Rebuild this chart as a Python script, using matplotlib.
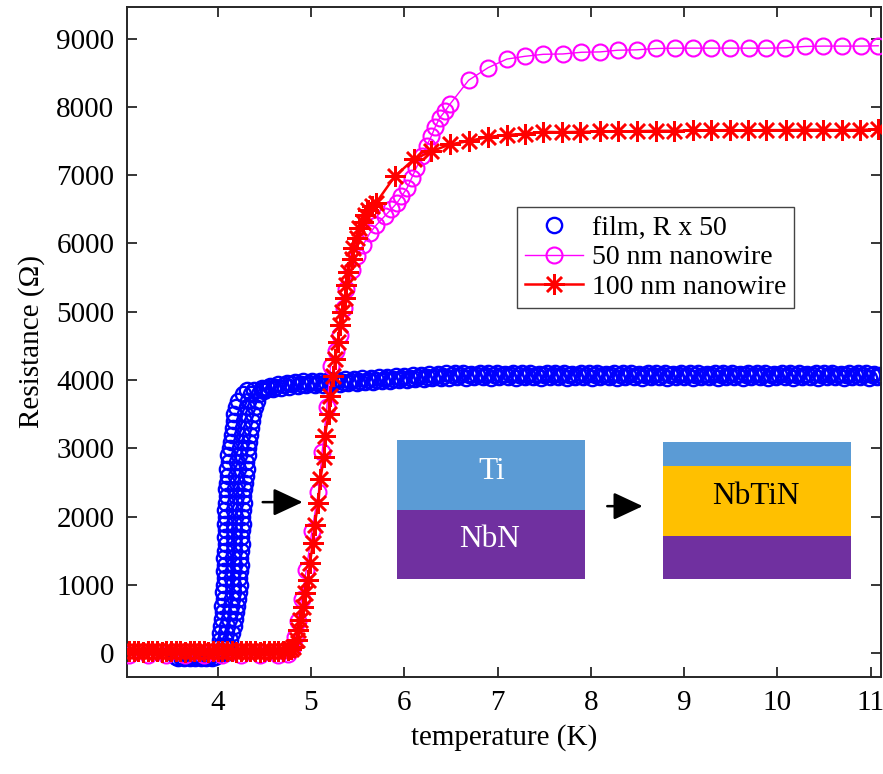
import matplotlib

matplotlib.use("Agg")
import matplotlib.pyplot as plt
from matplotlib.patches import Rectangle

plt.rcParams["font.family"] = ["Liberation Serif", "DejaVu Serif"]

# ---- film (R x 50), blue circles ----
# flat part below Tc
film_flat_t = [3.55, 3.58, 3.61, 3.64, 3.67, 3.70, 3.73, 3.76, 3.79, 3.82, 3.85, 3.88,
               3.91, 3.94, 3.97]
film_flat_r = [-60, -65, -55, -70, -60, -65, -55, -70, -60, -65, -55, -70, -60, -65, -50]

# noisy transition: resistance levels with left / middle / right readings
film_tr_r = [0, 100, 200, 300, 400, 500, 600, 700, 800, 900, 1000, 1100, 1200, 1300,
             1400, 1500, 1600, 1700, 1800, 1900, 2000, 2100, 2200, 2300, 2400, 2500,
             2600, 2700, 2800, 2900, 3000, 3100, 3200, 3300, 3400, 3500, 3600, 3700,
             3800, 3850]
film_tr_left = [4.01, 4.02, 4.02, 4.03, 4.04, 4.05, 4.06, 4.05, 4.07, 4.06, 4.07, 4.08,
                4.07, 4.08, 4.07, 4.08, 4.09, 4.08, 4.09, 4.08, 4.09, 4.08, 4.09, 4.10,
                4.09, 4.10, 4.11, 4.10, 4.12, 4.11, 4.13, 4.14, 4.15, 4.16, 4.17, 4.18,
                4.20, 4.22, 4.27, 4.31]
film_tr_mid = [4.05, 4.07, 4.08, 4.09, 4.10, 4.12, 4.13, 4.14, 4.15, 4.16, 4.16, 4.15,
               4.16, 4.17, 4.16, 4.17, 4.18, 4.17, 4.18, 4.17, 4.19, 4.18, 4.19, 4.20,
               4.19, 4.21, 4.20, 4.22, 4.21, 4.23, 4.24, 4.25, 4.26, 4.27, 4.28, 4.29,
               4.31, 4.33, 4.36, 4.39]
film_tr_right = [4.09, 4.11, 4.13, 4.15, 4.17, 4.19, 4.20, 4.21, 4.22, 4.23, 4.24, 4.23,
                 4.24, 4.25, 4.24, 4.25, 4.26, 4.25, 4.26, 4.27, 4.26, 4.27, 4.28, 4.27,
                 4.28, 4.29, 4.30, 4.31, 4.30, 4.32, 4.33, 4.34, 4.35, 4.36, 4.37, 4.38,
                 4.40, 4.42, 4.44, 4.47]

# normal-state plateau, three interleaved rows of readings (upper / lower / middle)
film_up_t = [4.47, 4.56, 4.65, 4.74, 4.83, 4.92, 5.01, 5.10, 5.19, 5.28, 5.37, 5.46, 5.55,
             5.64, 5.73, 5.82, 5.91, 6.00, 6.09, 6.18, 6.27, 6.36, 6.45, 6.54, 6.63, 6.72,
             6.81, 6.90, 6.99, 7.08, 7.17, 7.26, 7.35, 7.44, 7.53, 7.62, 7.71, 7.80, 7.89,
             7.98, 8.07, 8.16, 8.25, 8.34, 8.43, 8.52, 8.61, 8.70, 8.79, 8.88, 8.97, 9.06,
             9.15, 9.24, 9.33, 9.42, 9.51, 9.60, 9.69, 9.78, 9.87, 9.96, 10.05, 10.14,
             10.23, 10.32, 10.41, 10.50, 10.59, 10.68, 10.77, 10.86, 10.95, 11.04]
film_up_r = [3880, 3920, 3942, 3958, 3970, 3980, 3987, 3992, 3998, 4005, 4012, 4018, 4025,
             4032, 4040, 4047, 4054, 4060, 4070, 4078, 4085, 4092, 4097, 4100, 4105, 4095,
             4100, 4105, 4100, 4095, 4100, 4105, 4100, 4095, 4100, 4105, 4100, 4095, 4100,
             4105, 4100, 4095, 4100, 4105, 4100, 4095, 4100, 4105, 4100, 4095, 4100, 4105,
             4100, 4095, 4100, 4105, 4100, 4095, 4100, 4105, 4100, 4095, 4100, 4105,
             4100, 4095, 4100, 4105, 4100, 4095, 4100, 4105, 4100, 4095]
film_lo_t = [4.50, 4.59, 4.68, 4.77, 4.86, 4.95, 5.04, 5.13, 5.22, 5.31, 5.40, 5.49, 5.58,
             5.67, 5.76, 5.85, 5.94, 6.03, 6.12, 6.21, 6.30, 6.39, 6.48, 6.57, 6.66, 6.75,
             6.84, 6.93, 7.02, 7.11, 7.20, 7.29, 7.38, 7.47, 7.56, 7.65, 7.74, 7.83, 7.92,
             8.01, 8.10, 8.19, 8.28, 8.37, 8.46, 8.55, 8.64, 8.73, 8.82, 8.91, 9.00, 9.09,
             9.18, 9.27, 9.36, 9.45, 9.54, 9.63, 9.72, 9.81, 9.90, 9.99, 10.08, 10.17,
             10.26, 10.35, 10.44, 10.53, 10.62, 10.71, 10.80, 10.89, 10.98, 11.07]
film_lo_r = [3835, 3867, 3888, 3902, 3913, 3922, 3929, 3934, 3940, 3947, 3954, 3960, 3967,
             3975, 3982, 3989, 3996, 4003, 4013, 4020, 4027, 4034, 4038, 4040, 4035, 4045,
             4040, 4035, 4045, 4040, 4035, 4045, 4040, 4035, 4045, 4040, 4035, 4045, 4040,
             4035, 4045, 4040, 4035, 4045, 4040, 4035, 4045, 4040, 4035, 4045, 4040, 4035,
             4045, 4040, 4035, 4045, 4040, 4035, 4045, 4040, 4035, 4045, 4040, 4035,
             4045, 4040, 4035, 4045, 4040, 4035, 4045, 4040, 4035, 4045]
film_mid_t = [4.53, 4.62, 4.71, 4.80, 4.89, 4.98, 5.07, 5.16, 5.25, 5.34, 5.43, 5.52, 5.61,
              5.70, 5.79, 5.88, 5.97, 6.06, 6.15, 6.24, 6.33, 6.42, 6.51, 6.60, 6.69, 6.78,
              6.87, 6.96, 7.05, 7.14, 7.23, 7.32, 7.41, 7.50, 7.59, 7.68, 7.77, 7.86, 7.95,
              8.04, 8.13, 8.22, 8.31, 8.40, 8.49, 8.58, 8.67, 8.76, 8.85, 8.94, 9.03, 9.12,
              9.21, 9.30, 9.39, 9.48, 9.57, 9.66, 9.75, 9.84, 9.93, 10.02, 10.11, 10.20,
              10.29, 10.38, 10.47, 10.56, 10.65, 10.74, 10.83, 10.92, 11.01, 11.10]
film_mid_r = [3878, 3905, 3922, 3936, 3946, 3955, 3960, 3966, 3972, 3979, 3986, 3992, 3999,
              4007, 4014, 4021, 4028, 4036, 4045, 4052, 4059, 4065, 4069, 4070, 4072, 4068,
              4070, 4072, 4068, 4070, 4072, 4068, 4070, 4072, 4068, 4070, 4072, 4068, 4070,
              4072, 4068, 4070, 4072, 4068, 4070, 4072, 4068, 4070, 4072, 4068, 4070, 4072,
              4068, 4070, 4072, 4068, 4070, 4072, 4068, 4070, 4072, 4068, 4070, 4072,
              4068, 4070, 4072, 4068, 4070, 4072, 4068, 4070, 4072, 4068]

film_t = (film_flat_t + film_tr_left + film_tr_mid + film_tr_right
          + film_up_t + film_lo_t + film_mid_t)
film_r = (film_flat_r + film_tr_r + film_tr_r + film_tr_r
          + film_up_r + film_lo_r + film_mid_r)

# ---- 50 nm nanowire, magenta circles with line ----
nw50_t = [
    3.05, 3.25, 3.45, 3.65, 3.85, 4.05, 4.25, 4.45, 4.65, 4.75, 4.80, 4.83, 4.86, 4.90,
    4.95, 5.01, 5.08, 5.12, 5.17, 5.21, 5.27, 5.31, 5.35, 5.38, 5.44, 5.49, 5.56, 5.63,
    5.70, 5.79, 5.86, 5.92, 5.97, 6.03, 6.08, 6.13, 6.19, 6.24, 6.29, 6.33, 6.38, 6.44,
    6.49, 6.69, 6.90, 7.10, 7.29, 7.49, 7.70, 7.90, 8.10, 8.29, 8.49, 8.70, 8.90, 9.09,
    9.29, 9.49, 9.70, 9.88, 10.08, 10.30, 10.49, 10.69, 10.90, 11.08,
]
nw50_r = [
    -30, -25, -30, -20, -30, -25, -20, -25, -20, -10, 60, 240, 480, 800,
    1220, 1790, 2360, 2950, 3600, 4200, 4420, 4660, 5050, 5340, 5610, 5810, 5980, 6150,
    6270, 6400, 6500, 6590, 6690, 6810, 6960, 7110, 7280, 7430, 7570, 7700, 7840, 7940,
    8040, 8390, 8575, 8700, 8740, 8770, 8775, 8800, 8805, 8830, 8835, 8855, 8860, 8860,
    8860, 8860, 8860, 8860, 8865, 8885, 8890, 8890, 8890, 8895,
]

# ---- 100 nm nanowire, red asterisks with line ----
nw100_t = [
    3.05, 3.10, 3.15, 3.20, 3.25, 3.30, 3.35, 3.40, 3.45, 3.50, 3.55, 3.60, 3.65, 3.70,
    3.75, 3.80, 3.85, 3.90, 3.95, 4.00, 4.05, 4.10, 4.15, 4.20, 4.25, 4.30, 4.35, 4.40,
    4.45, 4.50, 4.55, 4.60, 4.65, 4.70, 4.75, 4.79, 4.81, 4.85, 4.86, 4.88, 4.92, 4.94,
    4.97, 4.99, 5.02, 5.04, 5.08, 5.10, 5.14, 5.15, 5.19, 5.20, 5.24, 5.26, 5.29, 5.31,
    5.33, 5.36, 5.38, 5.40, 5.44, 5.45, 5.49, 5.52, 5.56, 5.58, 5.61, 5.65, 5.70, 5.90,
    6.10, 6.29, 6.49, 6.69, 6.90, 7.10, 7.29, 7.49, 7.69, 7.88, 8.10, 8.29, 8.50, 8.70,
    8.89, 9.09, 9.29, 9.49, 9.68, 9.88, 10.09, 10.29, 10.49, 10.69, 10.89, 11.08,
]
nw100_r = [
    40, 30, 35, 25, 40, 30, 35, 25, 30, 40, 30, 35, 25, 30,
    35, 40, 30, 25, 35, 30, 40, 30, 35, 25, 30, 40, 35, 30,
    25, 35, 40, 30, 35, 40, 45, 70, 95, 190, 340, 485, 680, 880,
    1075, 1325, 1615, 1885, 2205, 2545, 2870, 3185, 3505, 3770, 4065, 4310, 4560, 4800,
    5000, 5195, 5390, 5585, 5780, 5930, 6075, 6225, 6320, 6420, 6490, 6545, 6600, 6985,
    7230, 7350, 7450, 7500, 7560, 7590, 7605, 7635, 7630, 7635, 7640, 7640, 7645, 7650,
    7650, 7655, 7655, 7660, 7655, 7660, 7660, 7665, 7665, 7660, 7665, 7670,
]

x_ticks = [4, 5, 6, 7, 8, 9, 10, 11]
y_ticks = [0, 1000, 2000, 3000, 4000, 5000, 6000, 7000, 8000, 9000]

fig = plt.figure(figsize=(8.83, 7.74), dpi=100)
ax = fig.add_axes([0.1438, 0.1253, 0.8539, 0.8657])

ax.plot(film_t, film_r, linestyle="none", marker="o", markersize=11,
        markerfacecolor="none", markeredgecolor="#0000ff", markeredgewidth=1.7,
        label="film, R x 50", zorder=2)
ax.plot(nw50_t, nw50_r, color="#ff00ff", linewidth=1.0, marker="o", markersize=11.5,
        markerfacecolor="none", markeredgewidth=1.5, label="50 nm nanowire", zorder=3)
ax.plot(nw100_t, nw100_r, color="#ff0000", linewidth=1.8, marker=(8, 2, 0), markersize=15,
        markeredgewidth=1.8, label="100 nm nanowire", zorder=4)

ax.set_xlim(3.028, 11.11)
ax.set_ylim(-347, 9463)
ax.set_xticks(x_ticks)
ax.set_yticks(y_ticks)
ax.tick_params(direction="in", length=7, width=1.3, top=True, right=True,
               labelsize=21, pad=9, color="#262626")
for sp in ax.spines.values():
    sp.set_linewidth(1.4)
    sp.set_color("#262626")

ax.set_xlabel("temperature (K)", fontsize=21, labelpad=6)
ax.set_ylabel("Resistance (Ω)", fontsize=21, labelpad=8)

leg = ax.legend(loc="upper left", bbox_to_anchor=(0.517, 0.7015), fontsize=20,
                frameon=True, fancybox=False, framealpha=1, edgecolor="#444444",
                borderpad=0.3, labelspacing=0.15, handlelength=2.1, handletextpad=0.3,
                borderaxespad=0, numpoints=1)
leg.get_frame().set_linewidth(1.0)

# inset: layer sketch Ti/NbN -> NbTiN
ti_blue = "#5b9bd5"
nbn_purple = "#7030a0"
nbtin_gold = "#ffc000"
layers = [
    (0.358, 0.1463, 0.1030, nbn_purple),
    (0.358, 0.2493, 0.1044, ti_blue),
    (0.7109, 0.1463, 0.0641, nbn_purple),
    (0.7109, 0.2104, 0.1045, nbtin_gold),
    (0.7109, 0.3149, 0.0358, ti_blue),
]
for x0, y0, h, c in layers:
    ax.add_patch(Rectangle((x0, y0), 0.2493, h, transform=ax.transAxes,
                           facecolor=c, edgecolor="none", zorder=6))
ax.text(0.4837, 0.3064, "Ti", transform=ax.transAxes, color="white", fontsize=22.5,
        ha="center", va="center", zorder=7)
ax.text(0.4814, 0.2045, "NbN", transform=ax.transAxes, color="white", fontsize=22.5,
        ha="center", va="center", zorder=7)
ax.text(0.8342, 0.2691, "NbTiN", transform=ax.transAxes, color="black", fontsize=22.5,
        ha="center", va="center", zorder=7)

arrow = dict(arrowstyle="-|>,head_length=0.9,head_width=0.42", color="black",
             lw=1.8, mutation_scale=20, shrinkA=0, shrinkB=0)
ax.annotate("", xy=(0.233, 0.261), xytext=(0.180, 0.261), xycoords="axes fraction",
            arrowprops=arrow, zorder=7)
ax.annotate("", xy=(0.684, 0.255), xytext=(0.637, 0.255), xycoords="axes fraction",
            arrowprops=arrow, zorder=7)

fig.savefig("out.png", dpi=100)
